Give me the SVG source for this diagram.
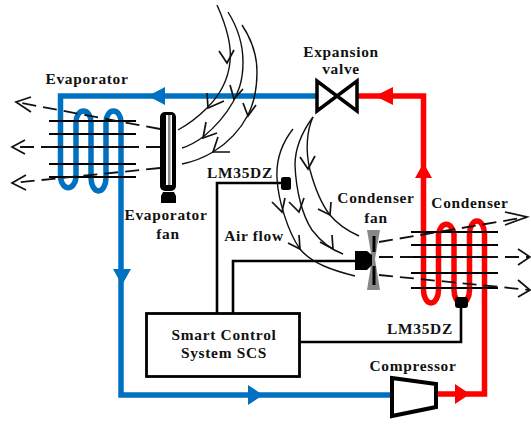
<svg xmlns="http://www.w3.org/2000/svg" width="531" height="427" viewBox="0 0 531 427">
<defs><style>
.t{font-family:"Liberation Serif",serif;font-weight:bold;font-size:15.4px;fill:#111;letter-spacing:.7px;text-anchor:middle}
.b{fill:none;stroke:#0070c0;stroke-width:5.5}
.r{fill:none;stroke:#f00;stroke-width:5.5}
.k{fill:none;stroke:#000;stroke-width:2.6}
.f{fill:none;stroke:#000;stroke-width:1.9}
.c{fill:none;stroke:#111;stroke-width:1.4}
.a{fill:none;stroke:#111;stroke-width:1.7}
.d{fill:none;stroke:#111;stroke-width:1.8;stroke-dasharray:14 7}
</style></defs>
<rect width="531" height="427" fill="#fff"/>
<g id="connectors">
<path class="b" d="M316 96H60.500V178A8 13 0 0 0 76 178V122A7.500 11 0 0 1 91 122V178A7.500 13 0 0 0 106 178V122A7.500 11 0 0 1 121 122V395H391"/>
<path class="r" d="M437 394H484.500V234A7.500 13 0 0 0 469.500 234V290A7.500 13 0 0 1 454 290V234A8 13 0 0 0 438.500 234V290A7.500 13 0 0 1 423.500 290V96H358"/>
<path fill="#0070c0" d="M148 96L165 87V105ZM122 285L113 269H131ZM263 395L248 385V405Z"/>
<path fill="#f00" d="M375 96L393 87V105ZM423.500 163L415 178H432ZM470 394L455 384V404Z"/>
<path class="k" d="M217 313V183H283M233 313V261H358M461 305V342H300"/>
<g class="f">
<path d="M49 121H136M49 134H136M49 147H136M49 164H136M49 177H136"/>
<path d="M411 232H498M411 245H498M411 257H498M411 273H498M411 288H498"/>
</g>
<g class="d">
<path d="M160 129L16 102"/><path d="M160 147H12"/><path d="M160 168L12 183"/>
<path d="M379 242L527 217"/><path d="M379 257H530"/><path d="M379 275L530 290"/>
</g>
<g class="a">
<path d="M31 97L16 102L31 112"/><path d="M25 140L12 147L25 154"/><path d="M26 175L12 183L26 190"/>
<path d="M505 212L527 217L505 225"/><path d="M518 249L530 257L518 265"/><path d="M518 280L530 290L518 297"/>
</g>
<g class="c">
<path d="M217 5C226 25 232 45 230 62C228 82 218 97 207 108C196 119 187 125 178 130"/>
<path d="M228 12C238 28 243 45 243 62C243 82 238 92 233 102C224 118 214 128 203 137C196 142 189 146 182 148"/>
<path d="M242 25C252 40 257 55 257 72C257 90 253 105 248 115C238 134 226 144 213 152C203 158 192 162 182 164"/>
<path d="M293 129C282 143 276 160 277 178C278 200 288 232 300 249C312 264 335 271 355 276"/>
<path d="M313 117C302 132 295 148 295 165C296 190 302 215 312 230C322 243 332 250 343 254"/>
<path d="M313 117C307 130 305 150 310 170C316 192 322 205 330 215C338 225 348 231 359 236"/>
</g>
<g class="a">
<path d="M219 51L227 63L234 50"/><path d="M207 93L208 108L224 101"/>
<path d="M230 85L234 99L243 89"/><path d="M206 122L203 138L217 133"/>
<path d="M243 103L248 116L256 105"/><path d="M218 137L213 152L230 152"/>
<path d="M300 157L308 169L315 156"/><path d="M272 202L282 212L285 198"/><path d="M289 202L299 212L304 198"/><path d="M318 209L330 215L331 202"/>
<path d="M288 243L300 249L299 235"/><path d="M320 242L333 249L332 235"/>
</g>
</g>
<g id="expansion-valve">
<path d="M317 81V111L357 81V111Z" fill="#fff" stroke="#000" stroke-width="3.500"/>
<text class="t" x="341" y="57">Expansion</text><text class="t" x="341" y="74">valve</text>
</g>
<g id="evaporator"><text class="t" x="87" y="84">Evaporator</text></g>
<g id="evaporator-fan">
<rect x="160" y="112" width="16" height="79" rx="5" fill="#000"/>
<rect x="166" y="115" width="6" height="70" fill="#fff"/>
<rect x="168" y="115" width="2.500" height="70" fill="#888"/>
<path d="M163 192H174L176 196V203H161V196Z" fill="#000"/>
<text class="t" x="166" y="220">Evaporator</text><text class="t" x="168" y="239">fan</text>
</g>
<g id="air-flow"><text class="t" x="254" y="241">Air flow</text></g>
<g id="sensor-evap">
<rect x="281" y="177" width="10" height="13" rx="2.500" fill="#000"/>
<text class="t" x="240" y="178">LM35DZ</text>
</g>
<g id="condenser"><text class="t" x="470" y="208">Condenser</text></g>
<g id="condenser-fan">
<path d="M367 230H380L375 259L380 290H367L372 259Z" fill="#888"/>
<path d="M374 236V252M374 266V285" stroke="#000" stroke-width="3"/>
<path d="M355 251H367L372 255V265L367 270H355Z" fill="#000"/>
<text class="t" x="376" y="203">Condenser</text><text class="t" x="376" y="223">fan</text>
</g>
<g id="sensor-cond">
<rect x="455" y="297" width="13" height="11" rx="3" fill="#000"/>
<text class="t" x="420" y="334">LM35DZ</text>
</g>
<g id="scs">
<rect x="146.500" y="313.500" width="153" height="63" fill="#fff" stroke="#000" stroke-width="2.800"/>
<text class="t" x="224" y="340">Smart Control</text><text class="t" x="224" y="358">System SCS</text>
</g>
<g id="compressor">
<path d="M392 378L436 384V407L392 416Z" fill="#fff" stroke="#000" stroke-width="4"/>
<text class="t" x="413" y="371">Compressor</text>
</g>
</svg>
